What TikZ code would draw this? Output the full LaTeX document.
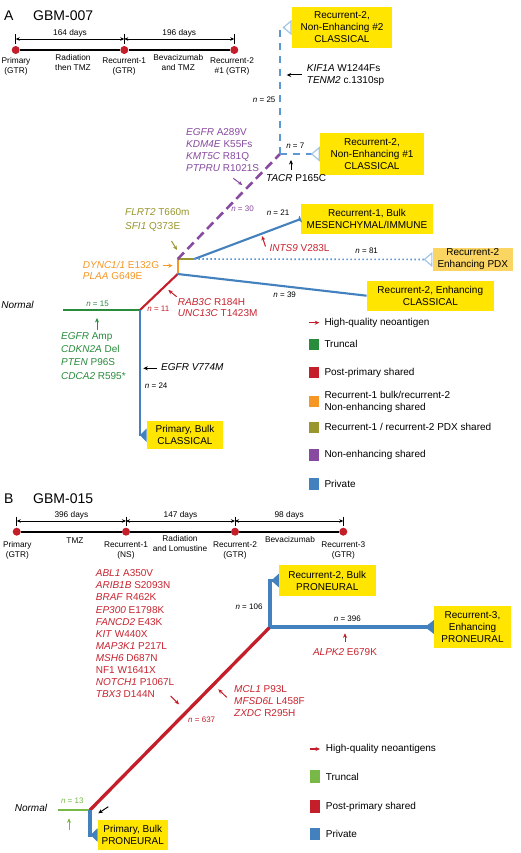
\documentclass[tikz,border=0pt]{standalone}
\usepackage{fontspec}
\setmainfont{Liberation Sans}
\usetikzlibrary{arrows.meta,positioning}
\definecolor{trblue}{RGB}{66,128,190}
\definecolor{trdash}{RGB}{92,152,212}
\definecolor{trtip}{RGB}{165,198,228}
\definecolor{trred}{RGB}{196,30,42}
\definecolor{trtext}{RGB}{200,36,48}
\definecolor{trgreen}{RGB}{40,140,60}
\definecolor{trlime}{RGB}{120,184,70}
\definecolor{trorange}{RGB}{246,150,36}
\definecolor{trolive}{RGB}{152,150,44}
\definecolor{trpurple}{RGB}{136,74,160}
\definecolor{tryellow}{RGB}{255,229,0}
\definecolor{trpdx}{RGB}{250,213,98}
\newcommand{\trfs}[2]{\fontsize{#1}{#2}\selectfont}
\newcommand{\trn}[1]{\textit{n} = #1}
\newcommand{\trg}[1]{\textit{#1}}
\tikzset{
  trbox/.style={fill=tryellow, align=center, inner sep=1pt, font=\trfs{10}{12}},
  trmut/.style={anchor=west, align=left, inner sep=0pt, font=\trfs{10}{11.8}},
  trnum/.style={inner sep=0pt, font=\trfs{8}{9}},
  trtime/.style={align=center, inner sep=0pt, font=\trfs{8.3}{10}},
  trhead/.style={anchor=west, inner sep=0pt, font=\trfs{14}{16}},
  trdot/.style={circle, fill=trred, inner sep=0pt, minimum size=8pt},
  trspan/.style={{Stealth[length=4pt,width=3.5pt]}-{Stealth[length=4pt,width=3.5pt]}, line width=.8pt},
  trptr/.style={-{Stealth[length=4.5pt,width=4pt]}, line width=1pt},
  trkey/.style={minimum width=10pt, minimum height=11.5pt, inner sep=0pt},
  trlab/.style={anchor=west, align=left, inner sep=0pt, font=\trfs{10}{12}},
  trthin/.style={line width=2.1pt},
  trthick/.style={line width=3.3pt},
  trdashed/.style={line width=2.4pt, dash pattern=on 7pt off 6pt},
  trwedge/.style={-{Triangle[reversed,length=#1,width=13pt]}},
  tropen/.style={-{Triangle[open,reversed,length=9pt,width=15pt,line width=1.2pt,color=trtip]}}
}

\begin{document}
\begin{tikzpicture}[x=1pt, y=-1pt]
  \path[use as bounding box, fill=white] (0,0) rectangle (520,853);

  % ---------------- A: GBM-007 ----------------
  \node[trhead] (panA) at (4,16) {A};
  \node[trhead] (gbmA) at (33,16) {GBM-007};
  \foreach \x [count=\i from 0] in {15.7,124.3,234.3} {
    \node[trdot] (tA\i) at (\x,50) {};
    \coordinate (sA\i) at (\x,39);
    \draw[line width=.8pt] ([yshift=4.5pt]sA\i) -- ([yshift=-5pt]sA\i);
  }
  \draw[line width=2.2pt] (tA0) -- (tA1) -- (tA2);
  \draw[trspan] (sA0) -- node[above=1.5pt, trtime] (dA0) {164 days} (sA1);
  \draw[trspan] (sA1) -- node[above=1.5pt, trtime] (dA1) {196 days} (sA2);
  \node[trtime] (lA0) at (16,66.7) {Primary\\(GTR)};
  \node[trtime] (lA1) at (73,62.5) {Radiation\\then TMZ};
  \node[trtime] (lA2) at (124.2,66.7) {Recurrent-1\\(GTR)};
  \node[trtime] (lA3) at (178.3,62.5) {Bevacizumab\\and TMZ};
  \node[trtime] (lA4) at (232,66.7) {Recurrent-2\\\#1 (GTR)};

  % tree A
  \coordinate (nA) at (63,310);
  \coordinate (jA1) at (140,310);
  \coordinate (jA2) at (177.7,274);
  \coordinate (jA3) at (177.7,259);
  \coordinate (jA4) at (194.3,259);
  \coordinate (jA5) at (280,154);
  \node[inner sep=0pt, font=\trfs{10}{12}\itshape] (normA) at (17.5,305) {Normal};
  \node[trbox, minimum width=76.6pt, minimum height=28.3pt] (bxA1) at (185,435.2) {Primary, Bulk\\CLASSICAL};
  \node[trbox, minimum width=132pt, minimum height=30pt] (bxA2) at (367,219) {Recurrent-1, Bulk\\MESENCHYMAL/IMMUNE};
  \node[trbox, minimum width=127pt, minimum height=30pt] (bxA3) at (430.3,295.7) {Recurrent-2, Enhancing\\CLASSICAL};
  \node[trbox, fill=trpdx, minimum width=80.3pt, minimum height=23pt] (bxA4) at (472.8,259.5) {Recurrent-2\\Enhancing PDX};
  \node[trbox, minimum width=104pt, minimum height=42pt] (bxA5) at (372,154) {Recurrent-2,\\Non-Enhancing \#1\\CLASSICAL};
  \node[trbox, minimum width=100.6pt, minimum height=41.6pt] (bxA6) at (342,27.5) {Recurrent-2,\\Non-Enhancing \#2\\CLASSICAL};

  \draw[trgreen, trthin] (nA) -- (jA1);
  \draw[trred, trthin] (jA1) -- (jA2);
  \draw[trorange, trthin] (jA2) -- (jA3);
  \draw[trolive, trthin] (jA3) -- (jA4);
  \draw[trpurple, line width=2.6pt, dash pattern=on 9pt off 5pt] (jA3) -- (jA5);
  \draw[trblue, trthin, trwedge=6.5pt] (jA1) |- (bxA1.west);
  \draw[trblue, trthin] (jA2) -- (bxA3.west);
  \draw[trblue, trthin, -{Triangle[reversed,length=3pt,width=7pt]}] (jA4) -- (bxA2.west);
  \draw[trdash, line width=1.6pt, dash pattern=on 1.6pt off 2.4pt, tropen] (jA4) -- (bxA4.west);
  \draw[trdash, trdashed, tropen] (jA5) -- (bxA5.west);
  \draw[trdash, trdashed, tropen] (jA5) |- (bxA6.west);

  \node[trnum, trgreen] (nA15) at (97.5,303.3) {\trn{15}};
  \node[trnum, trred] (nA11) at (158.3,308.3) {\trn{11}};
  \node[trnum] (nA24) at (156.2,385.7) {\trn{24}};
  \node[trnum] (nA39) at (284.7,294.3) {\trn{39}};
  \node[trnum] (nA21) at (278,212.7) {\trn{21}};
  \node[trnum] (nA81) at (366.7,251) {\trn{81}};
  \node[trnum, trpurple] (nA30) at (242.5,208.3) {\trn{30}};
  \node[trnum] (nA7) at (295.3,146) {\trn{7}};
  \node[trnum] (nA25) at (264.2,100) {\trn{25}};

  % mutations A
  \node[trmut, font=\trfs{10}{11.4}] (mKif) at (306.7,75) {\trg{KIF1A} W1244Fs\\\trg{TENM2} c.1310sp};
  \node[trmut, trpurple] (mPur) at (186,150) {\trg{EGFR} A289V\\\trg{KDM4E} K55Fs\\\trg{KMT5C} R81Q\\\trg{PTPRU} R1021S};
  \node[trmut] (mTac) at (266,178.3) {\trg{TACR} P165C};
  \node[trmut, trolive, font=\trfs{10}{13.4}] (mOli) at (125,220) {\trg{FLRT2} T660m\\\trg{SFI1} Q373E};
  \node[trmut, trorange, font=\trfs{10}{11}] (mOra) at (82.7,270.5) {\trg{DYNC1/1} E132G\\\trg{PLAA} G649E};
  \node[trmut, trtext] (mInt) at (269.3,248.3) {\trg{INTS9} V283L};
  \node[trmut, trtext, font=\trfs{10}{11}] (mRab) at (177.7,307.2) {\trg{RAB3C} R184H\\\trg{UNC13C} T1423M};
  \node[trmut, trgreen, font=\trfs{10}{13.4}] (mGre) at (61,355.8) {\trg{EGFR} Amp\\\trg{CDKN2A} Del\\\trg{PTEN} P96S\\\trg{CDCA2} R595*};
  \node[trmut] (mEgf) at (161,367.5) {\textit{EGFR V774M}};

  \coordinate (pKif) at (286.7,75);
  \coordinate (pPur) at (242.3,185);
  \coordinate (pTac) at (291,160);
  \coordinate (pOli) at (177,250);
  \coordinate (pOra) at (172.7,265.7);
  \coordinate (pInt) at (262,236);
  \coordinate (pRab) at (168.3,290);
  \coordinate (pGre) at (97,318);
  \coordinate (pEgf) at (143.3,368.3);
  \draw[trptr] ([shift={(15,0)}]pKif) -- (pKif);
  \draw[trptr, trpurple] ([shift={(-9,-6.7)}]pPur) -- (pPur);
  \draw[trptr] ([shift={(0,10)}]pTac) -- (pTac);
  \draw[trptr, trolive] ([shift={(-5.5,-9)}]pOli) -- (pOli);
  \draw[trptr, trorange] ([shift={(-10,0)}]pOra) -- (pOra);
  \draw[trptr, trred] ([shift={(3.5,10.5)}]pInt) -- (pInt);
  \draw[trptr, trred] ([shift={(8.4,6.7)}]pRab) -- (pRab);
  \draw[trptr, trgreen] ([shift={(0,12)}]pGre) -- (pGre);
  \draw[trptr] ([shift={(13.4,0)}]pEgf) -- (pEgf);

  % legend A
  \coordinate (kA0) at (319.3,322.7);
  \draw[trptr, trred, line width=1.4pt] ([xshift=-10pt]kA0) -- (kA0);
  \node[trlab] (xA0) at (324.3,322.7) {High-quality neoantigen};
  \node[trkey, fill=trgreen] (kA1) at (314.3,344.3) {};
  \node[trlab] (xA1) at (324.3,344.3) {Truncal};
  \node[trkey, fill=trred] (kA2) at (314.3,372.7) {};
  \node[trlab] (xA2) at (324.3,372.7) {Post-primary shared};
  \node[trkey, fill=trorange] (kA3) at (314.3,401.5) {};
  \node[trlab] (xA3) at (324.3,401.7) {Recurrent-1 bulk/recurrent-2\\Non-enhancing shared};
  \node[trkey, fill=trolive] (kA4) at (314.3,427.3) {};
  \node[trlab] (xA4) at (324.3,427.3) {Recurrent-1 / recurrent-2 PDX shared};
  \node[trkey, fill=trpurple] (kA5) at (314.3,455) {};
  \node[trlab] (xA5) at (324.3,455) {Non-enhancing shared};
  \node[trkey, fill=trblue] (kA6) at (314.3,484) {};
  \node[trlab] (xA6) at (324.3,484) {Private};

  % ---------------- B: GBM-015 ----------------
  \node[trhead] (panB) at (4,498.3) {B};
  \node[trhead] (gbmB) at (33,498.3) {GBM-015};
  \foreach \x [count=\i from 0] in {16.7,126,235,343.3} {
    \node[trdot] (tB\i) at (\x,531.7) {};
    \coordinate (sB\i) at (\x,521);
    \draw[line width=.8pt] ([yshift=4.5pt]sB\i) -- ([yshift=-5pt]sB\i);
  }
  \draw[line width=2.2pt] (tB0) -- (tB1) -- (tB2) -- (tB3);
  \draw[trspan] (sB0) -- node[above=1.5pt, trtime] (dB0) {396 days} (sB1);
  \draw[trspan] (sB1) -- node[above=1.5pt, trtime] (dB1) {147 days} (sB2);
  \draw[trspan] (sB2) -- node[above=1.5pt, trtime] (dB2) {98 days} (sB3);
  \node[trtime] (lB0) at (17.3,550.3) {Primary\\(GTR)};
  \node[trtime] (lB1) at (75,540.7) {TMZ};
  \node[trtime] (lB2) at (126,550.3) {Recurrent-1\\(NS)};
  \node[trtime] (lB3) at (180,544) {Radiation\\and Lomustine};
  \node[trtime] (lB4) at (235,550.3) {Recurrent-2\\(GTR)};
  \node[trtime] (lB5) at (290,540) {Bevacizumab};
  \node[trtime] (lB6) at (343.3,550.3) {Recurrent-3\\(GTR)};

  % tree B
  \coordinate (nB) at (58.3,810);
  \coordinate (jB1) at (90,810);
  \coordinate (jB2) at (270,627);
  \node[inner sep=0pt, font=\trfs{10}{12}\itshape] (normB) at (31,807.7) {Normal};
  \node[trbox, minimum width=70pt, minimum height=30pt] (bxB1) at (132.7,835) {Primary, Bulk\\PRONEURAL};
  \node[trbox, minimum width=96.7pt, minimum height=31pt] (bxB2) at (327.3,580.5) {Recurrent-2, Bulk\\PRONEURAL};
  \node[trbox, minimum width=77pt, minimum height=41.7pt] (bxB3) at (472.5,627) {Recurrent-3,\\Enhancing\\PRONEURAL};

  \draw[trlime, line width=2.7pt] (nB) -- (jB1);
  \draw[trred, trthick] (jB1) -- (jB2);
  \draw[trblue, trthick, trwedge=7.5pt] (jB2) |- (bxB2.west);
  \draw[trblue, trthick, trwedge=9pt] (jB2) -- (bxB3.west);
  \draw[trblue, trthick, trwedge=7pt] (jB1) |- (bxB1.west);

  \node[trnum, trlime] (nB13) at (72.3,800.7) {\trn{13}};
  \node[trnum, trred] (nB637) at (201.7,720) {\trn{637}};
  \node[trnum] (nB106) at (249,606.7) {\trn{106}};
  \node[trnum] (nB396) at (347.3,618.3) {\trn{396}};

  % mutations B
  \node[trmut, trtext, font=\trfs{10}{12.1}] (mLst) at (95.7,633.8) {\trg{ABL1} A350V\\\trg{ARIB1B} S2093N\\\trg{BRAF} R462K\\\trg{EP300} E1798K\\\trg{FANCD2} E43K\\\trg{KIT} W440X\\\trg{MAP3K1} P217L\\\trg{MSH6} D687N\\NF1 W1641X\\\trg{NOTCH1} P1067L\\\trg{TBX3} D144N};
  \node[trmut, trtext, font=\trfs{10}{11.7}] (mMcl) at (234,701) {\trg{MCL1} P93L\\\trg{MFSD6L} L458F\\\trg{ZXDC} R295H};
  \node[trmut, trtext, anchor=center] (mAlp) at (345,652.3) {\trg{ALPK2} E679K};

  \coordinate (pLst) at (179,704.3);
  \coordinate (pMcl) at (218.3,689.3);
  \coordinate (pAlp) at (345,633.3);
  \coordinate (pGrB) at (69,818.3);
  \coordinate (pPri) at (98.3,813.3);
  \draw[trptr, trred] ([shift={(-8.3,-8.3)}]pLst) -- (pLst);
  \draw[trptr, trred] ([shift={(8.4,8)}]pMcl) -- (pMcl);
  \draw[trptr, trred] ([shift={(0,8.4)}]pAlp) -- (pAlp);
  \draw[trptr, trlime] ([shift={(0,11.7)}]pGrB) -- (pGrB);
  \draw[trptr] ([shift={(10,-6.6)}]pPri) -- (pPri);

  % legend B
  \coordinate (kB0) at (320,749);
  \draw[trptr, trred, line width=1.4pt] ([xshift=-10.5pt]kB0) -- (kB0);
  \node[trlab] (xB0) at (325.7,749) {High-quality neoantigens};
  \node[trkey, fill=trlime, minimum height=12.5pt] (kB1) at (314.6,776.7) {};
  \node[trlab] (xB1) at (325.7,776.7) {Truncal};
  \node[trkey, fill=trred, minimum height=12.5pt] (kB2) at (314.6,806.7) {};
  \node[trlab] (xB2) at (325.7,806.7) {Post-primary shared};
  \node[trkey, fill=trblue, minimum height=12.5pt] (kB3) at (314.6,834) {};
  \node[trlab] (xB3) at (325.7,834) {Private};
\end{tikzpicture}
\end{document}
